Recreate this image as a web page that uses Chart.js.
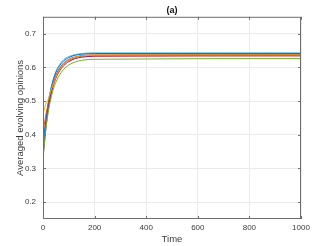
<!DOCTYPE html>
<html lang="en">
<head>
<meta charset="UTF-8">
<title>(a) Averaged evolving opinions</title>
<script src="https://cdn.jsdelivr.net/npm/chart.js"></script>
<style>
  html, body { margin: 0; padding: 0; background: #fff; }
  #wrap { width: 332px; height: 246px; }
</style>
</head>
<body>
<div id="wrap"><canvas id="chart"></canvas></div>
<script>
const times = [0, 1, 5, 10, 20, 30, 40, 50, 60, 80, 100, 125, 150, 200, 1000];

// averaged opinion for each run (read by eye)
const lightBlue = [0.35, 0.36, 0.395, 0.433, 0.493, 0.535, 0.566, 0.588, 0.603, 0.623, 0.632, 0.638, 0.641, 0.643, 0.643];
const blue      = [0.30, 0.33, 0.40, 0.435, 0.492, 0.533, 0.563, 0.585, 0.600, 0.619, 0.629, 0.636, 0.639, 0.641, 0.641];
const orange    = [0.40, 0.41, 0.43, 0.455, 0.490, 0.528, 0.556, 0.577, 0.592, 0.613, 0.624, 0.631, 0.635, 0.637, 0.638];
const yellow    = [0.46, 0.465, 0.475, 0.490, 0.505, 0.530, 0.550, 0.572, 0.588, 0.610, 0.622, 0.630, 0.634, 0.636, 0.637];
const purple    = [0.33, 0.34, 0.37, 0.410, 0.475, 0.520, 0.550, 0.573, 0.589, 0.610, 0.621, 0.629, 0.633, 0.635, 0.636];
const darkRed   = [0.37, 0.38, 0.40, 0.430, 0.478, 0.516, 0.546, 0.568, 0.584, 0.605, 0.617, 0.626, 0.630, 0.633, 0.634];
const green     = [0.20, 0.30, 0.37, 0.410, 0.465, 0.505, 0.535, 0.556, 0.572, 0.594, 0.607, 0.616, 0.621, 0.624, 0.626];

const xTicks = [0, 200, 400, 600, 800, 1000];
const yTicks = [0.2, 0.3, 0.4, 0.5, 0.6, 0.7];

const series = [
  { vals: green,     color: "#77AC30" },
  { vals: yellow,    color: "#EDB120" },
  { vals: purple,    color: "#7E2F8E" },
  { vals: orange,    color: "#D95319" },
  { vals: blue,      color: "#0072BD" },
  { vals: lightBlue, color: "#4DBEEE" },
  { vals: darkRed,   color: "#A2142F" }
];

const textColor = "#3a3a3a";
const font = "'Liberation Sans', Arial, Helvetica, sans-serif";

// box round the plot plus small inward ticks, like matlab axes
const boxPlugin = {
  id: "box",
  afterDraw(chart) {
    const { ctx, chartArea: a, scales } = chart;
    ctx.save();
    ctx.strokeStyle = "#6e6e6e";
    ctx.lineWidth = 1;
    ctx.strokeRect(a.left + 0.5, a.top + 0.5, a.right - a.left - 1, a.bottom - a.top - 1);
    ctx.beginPath();
    xTicks.forEach(v => {
      const px = Math.round(scales.x.getPixelForValue(v)) + 0.5;
      ctx.moveTo(px, a.bottom); ctx.lineTo(px, a.bottom - 3);
      ctx.moveTo(px, a.top); ctx.lineTo(px, a.top + 3);
    });
    yTicks.forEach(v => {
      const py = Math.round(scales.y.getPixelForValue(v)) + 0.5;
      ctx.moveTo(a.left, py); ctx.lineTo(a.left + 3, py);
      ctx.moveTo(a.right, py); ctx.lineTo(a.right - 3, py);
    });
    ctx.stroke();
    ctx.restore();
  }
};

new Chart(document.getElementById("chart"), {
  type: "line",
  data: {
    datasets: series.map(s => ({
      data: times.map((t, i) => ({ x: t, y: s.vals[i] })),
      borderColor: s.color,
      borderWidth: 1,
      pointRadius: 0,
      fill: false,
      cubicInterpolationMode: "monotone"
    }))
  },
  options: {
    responsive: true,
    maintainAspectRatio: false,
    animation: false,
    layout: { padding: { left: 0, right: 31, top: 0, bottom: 0 } },
    plugins: {
      legend: { display: false },
      tooltip: { enabled: false },
      title: {
        display: true,
        text: "(a)",
        fullSize: false,
        color: "#111",
        font: { family: font, size: 9, weight: "bold" },
        padding: { top: 5, bottom: 1 }
      }
    },
    scales: {
      x: {
        type: "linear",
        min: 0,
        max: 1000,
        afterBuildTicks: s => { s.ticks = xTicks.map(v => ({ value: v })); },
        afterFit: s => { s.height = 27; },
        grid: { color: "#ebebeb", drawTicks: false },
        border: { display: false },
        ticks: {
          color: textColor,
          font: { family: font, size: 8 },
          padding: 4,
          maxRotation: 0,
          callback: v => String(v)
        },
        title: {
          display: true,
          text: "Time",
          color: textColor,
          font: { family: font, size: 9.5 },
          padding: { top: 0, bottom: 1 }
        }
      },
      y: {
        min: 0.15,
        max: 0.75,
        afterBuildTicks: s => { s.ticks = yTicks.map(v => ({ value: v })); },
        afterFit: s => { s.width = 43; },
        grid: { color: "#ebebeb", drawTicks: false },
        border: { display: false },
        ticks: {
          color: textColor,
          font: { family: font, size: 8 },
          padding: 7,
          callback: v => v.toFixed(1)
        },
        title: {
          display: true,
          text: "Averaged evolving opinions",
          color: textColor,
          font: { family: font, size: 9.5 },
          padding: { top: 15, bottom: 0 }
        }
      }
    }
  },
  plugins: [boxPlugin]
});
</script>
</body>
</html>
